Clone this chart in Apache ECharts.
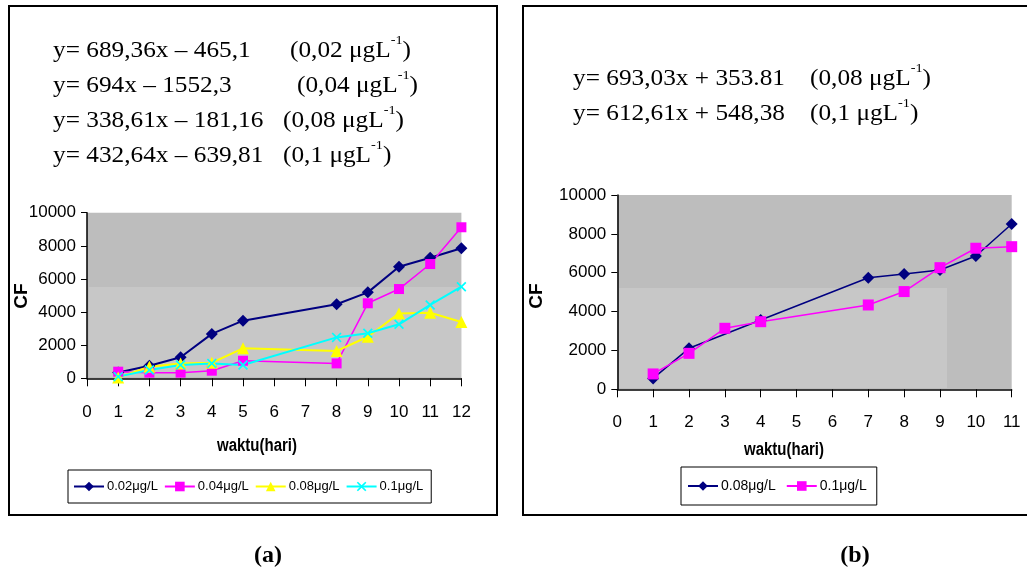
<!DOCTYPE html>
<html>
<head>
<meta charset="utf-8">
<style>
  html, body { margin: 0; padding: 0; background: #ffffff; }
  #chart { width: 1027px; height: 580px; }
</style>
<script src="https://cdn.jsdelivr.net/npm/echarts@6/dist/echarts.min.js"></script>
</head>
<body>
<div id="chart"></div>
<script>
// ---- data ----
const leftDays  = [1, 2, 3, 4, 5, 8, 9, 10, 11, 12];
const cf002     = [350, 760, 1270, 2680, 3480, 4470, 5190, 6740, 7280, 7850];
const cf004     = [400, 340, 340, 460, 1060, 900, 4530, 5390, 6900, 9120];
const cf008     = [50, 700, 900, 940, 1810, 1650, 2510, 3920, 3960, 3400];
const cf01      = [100, 500, 800, 900, 800, 2470, 2720, 3260, 4430, 5530];

const rightDays = [1, 2, 3, 4, 7, 8, 9, 10, 11];
const rCf008    = [560, 2110, null, 3570, 5740, 5930, 6140, 6860, 8510];
const rCf01     = [790, 1850, 3140, 3480, 4340, 5030, 6260, 7260, 7340];

const leftNames  = ['0.02μg/L', '0.04μg/L', '0.08μg/L', '0.1μg/L'];
const rightNames = ['0.08μg/L', '0.1μg/L'];

const leftEqs = [
  ['y= 689,36x – 465,1', '(0,02 μgL', '-1', ')'],
  ['y= 694x – 1552,3',   '(0,04 μgL', '-1', ')'],
  ['y= 338,61x – 181,16', '(0,08 μgL', '-1', ')'],
  ['y= 432,64x – 639,81', '(0,1 μgL', '-1', ')']
];
const rightEqs = [
  ['y= 693,03x + 353.81', '(0,08 μgL', '-1', ')'],
  ['y= 612,61x + 548,38', '(0,1 μgL', '-1', ')']
];
const xAxisTitle = 'waktu(hari)';
const yAxisTitle = 'CF';

// ---- helpers ----
const pairs = (xs, ys) => xs.map((x, i) => [x, ys[i]]);
const SANS = '"Liberation Sans", Arial, sans-serif';
const SERIF = '"Liberation Serif", "Times New Roman", serif';
const XSYM = 'path://M0,1.2L1.2,0L5,3.8L8.8,0L10,1.2L6.2,5L10,8.8L8.8,10L5,6.2L1.2,10L0,8.8L3.8,5Z';
const R = '\u200b'; // keeps right-panel legend names distinct from left-panel ones

const eqRich = {
  m: { fontFamily: SERIF, fontSize: 23, color: '#000', lineHeight: 28, verticalAlign: 'bottom' },
  s: { fontFamily: SERIF, fontSize: 13, color: '#000', lineHeight: 14, verticalAlign: 'top' }
};
function eqTexts(eqs, x1, x2s, y0, dy) {
  const out = [];
  eqs.forEach((e, i) => {
    const y = y0 + i * dy;
    out.push({ type: 'text', x: x1, y: y, scaleX: 1.1,
      style: { text: '{m|' + e[0] + '}', rich: eqRich } });
    out.push({ type: 'text', x: x2s[i], y: y, scaleX: 1.1,
      style: { text: '{m|' + e[1] + '}{s|' + e[2] + '}{m|' + e[3] + '}', rich: eqRich } });
  });
  return out;
}

function xAxisCfg(gridIndex, max, margin) {
  return {
    type: 'value', gridIndex, min: 0, max, interval: 1, z: 5,
    axisLine: { show: true, onZero: false, lineStyle: { color: '#000', width: 1.5 } },
    axisTick: { show: true, inside: false, length: 8, lineStyle: { color: '#000' } },
    axisLabel: { color: '#000', fontFamily: SANS, fontSize: 17, margin },
    splitLine: { show: false }
  };
}
function yAxisCfg(gridIndex) {
  return {
    type: 'value', gridIndex, min: 0, max: 10000, interval: 2000, z: 5,
    axisLine: { show: true, lineStyle: { color: '#000', width: 1.5 } },
    axisTick: { show: true, inside: false, length: 6, lineStyle: { color: '#000' } },
    axisLabel: { color: '#000', fontFamily: SANS, fontSize: 17, margin: 11,
      formatter: v => String(v) },
    splitLine: { show: false }
  };
}
function lineSeries(name, xi, data, color, symbol, size, width) {
  return {
    type: 'line', name, xAxisIndex: xi, yAxisIndex: xi, data,
    connectNulls: true, symbol, symbolSize: size, showSymbol: true,
    lineStyle: { color, width }, itemStyle: { color, opacity: 1 },
    animation: false, z: 6
  };
}

const chart = echarts.init(document.getElementById('chart'), null, { renderer: 'canvas' });

const option = {
  backgroundColor: '#ffffff',
  animation: false,
  grid: [
    { left: 87, top: 212.7, width: 374.4, height: 165.6, show: true,
      backgroundColor: '#bdbdbd', borderWidth: 0, containLabel: false },
    { left: 617.3, top: 195, width: 394.4, height: 194.3, show: true,
      backgroundColor: '#bdbdbd', borderWidth: 0, containLabel: false }
  ],
  xAxis: [xAxisCfg(0, 12, 26), xAxisCfg(1, 11, 25)],
  yAxis: [yAxisCfg(0), yAxisCfg(1)],
  legend: [
    { data: leftNames.map(n => ({ name: n })), left: 68, top: 470,
      orient: 'horizontal', itemWidth: 30, itemHeight: 12, itemGap: 6,
      padding: [10, 8, 10, 5], borderColor: '#000', borderWidth: 1,
      backgroundColor: '#ffffff',
      textStyle: { fontFamily: SANS, fontSize: 13, color: '#000', padding: [0, 0, 0, -2] } },
    { data: rightNames.map(n => ({ name: n + R })), left: 681, top: 467,
      orient: 'horizontal', itemWidth: 30, itemHeight: 12, itemGap: 10,
      padding: [12, 10, 12, 6], borderColor: '#000', borderWidth: 1,
      backgroundColor: '#ffffff',
      textStyle: { fontFamily: SANS, fontSize: 14, color: '#000', padding: [0, 0, 0, -2] } }
  ],
  series: [
    lineSeries(leftNames[0], 0, pairs(leftDays, cf002), '#000080', 'diamond', 12, 2),
    lineSeries(leftNames[1], 0, pairs(leftDays, cf004), '#ff00ff', 'rect', 10, 1.5),
    lineSeries(leftNames[2], 0, pairs(leftDays, cf008), '#ffff00', 'triangle', 12, 2),
    lineSeries(leftNames[3], 0, pairs(leftDays, cf01), '#00ffff', XSYM, 10, 2),
    lineSeries(rightNames[0] + R, 1, pairs(rightDays, rCf008), '#000080', 'diamond', 12, 1.5),
    lineSeries(rightNames[1] + R, 1, pairs(rightDays, rCf01), '#ff00ff', 'rect', 11, 1.5)
  ],
  graphic: [
    // lighter background shading inside the plot areas (decorative)
    { type: 'rect', shape: { x: 89, y: 287, width: 372, height: 90 },
      style: { fill: '#c7c7c7' }, z: 1, silent: true },
    { type: 'rect', shape: { x: 619, y: 288, width: 328, height: 100 },
      style: { fill: '#c7c7c7' }, z: 1, silent: true },
    { type: 'rect', shape: { x: 9, y: 6, width: 488, height: 509 },
      style: { fill: 'none', stroke: '#000', lineWidth: 2 }, z: 10 },
    { type: 'rect', shape: { x: 523, y: 6, width: 520, height: 509 },
      style: { fill: 'none', stroke: '#000', lineWidth: 2 }, z: 10 },
    { type: 'text', x: 22, y: 296, rotation: Math.PI / 2,
      style: { text: yAxisTitle, font: 'bold 19px ' + SANS, fill: '#000', align: 'center', verticalAlign: 'middle' } },
    { type: 'text', x: 537, y: 296, rotation: Math.PI / 2,
      style: { text: yAxisTitle, font: 'bold 19px ' + SANS, fill: '#000', align: 'center', verticalAlign: 'middle' } },
    { type: 'text', x: 257, y: 446, scaleY: 1.25,
      style: { text: xAxisTitle, font: 'bold 15px ' + SANS, fill: '#000', align: 'center', verticalAlign: 'middle' } },
    { type: 'text', x: 784, y: 450, scaleY: 1.25,
      style: { text: xAxisTitle, font: 'bold 15px ' + SANS, fill: '#000', align: 'center', verticalAlign: 'middle' } },
    { type: 'text', x: 268, y: 556,
      style: { text: '(a)', font: 'bold 24px ' + SERIF, fill: '#000', align: 'center', verticalAlign: 'middle' } },
    { type: 'text', x: 855, y: 556,
      style: { text: '(b)', font: 'bold 24px ' + SERIF, fill: '#000', align: 'center', verticalAlign: 'middle' } },
    ...eqTexts(leftEqs, 53, [290, 297, 283, 283], 34, 35),
    ...eqTexts(rightEqs, 573, [810, 810], 62, 35)
  ]
};
chart.setOption(option);
</script>
</body>
</html>
